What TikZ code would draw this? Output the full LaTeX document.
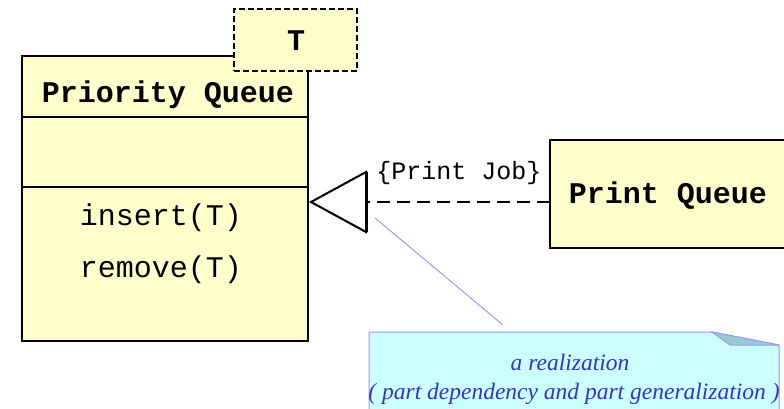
\documentclass[tikz,border=0pt]{standalone}
\usepackage{fontspec}
\setmonofont{Liberation Mono}
\newfontfamily\notefont{Liberation Serif}
\definecolor{boxyellow}{HTML}{FFFFCC}
\definecolor{notefill}{HTML}{CCFFFF}
\definecolor{noteline}{HTML}{9999FF}
\definecolor{foldfill}{HTML}{99CCCC}
\definecolor{notetext}{HTML}{3333CC}
\tikzset{
  umlbox/.style={draw, line width=2pt, fill=boxyellow, inner sep=0pt, outer sep=0pt, anchor=north west},
  monob/.style={font=\ttfamily\bfseries\fontsize{30}{36}\selectfont, anchor=base, inner sep=0pt},
  mono/.style={font=\ttfamily\fontsize{30}{36}\selectfont, anchor=base, inner sep=0pt},
  monos/.style={font=\ttfamily\fontsize{25}{30}\selectfont, anchor=base, inner sep=0pt},
  notetxt/.style={font=\notefont\itshape\fontsize{23.5}{28}\selectfont, text=notetext, anchor=base, inner sep=0pt},
}
\begin{document}
\begin{tikzpicture}[x=1pt,y=-1pt]
\useasboundingbox (0,0) rectangle (784,409);
\clip (0,0) rectangle (784,409);
% Priority Queue class
\node[umlbox, minimum width=286pt, minimum height=61pt] (pqhead) at (22,56) {};
\node[umlbox, minimum width=286pt, minimum height=70pt] (pqattr) at (22,117) {};
\node[umlbox, minimum width=286pt, minimum height=154pt] (pqops) at (22,187) {};
\node[monob] (pqtitle) at (168,103) {Priority Queue};
\node[mono] (ins) at (161,225) {insert(T)};
\node[mono] (rem) at (161,277) {remove(T)};
% template parameter
\node[umlbox, dash pattern=on 6pt off 3pt, line width=1.8pt, minimum width=123pt, minimum height=62pt] (tpar) at (234,9) {};
\node[monob] (tlabel) at (296,51) {T};
% Print Queue class
\node[umlbox, minimum width=260pt, minimum height=108pt] (pqueue) at (550,140) {};
\node[monob] (pqname) at (668,203) {Print Queue};
% realization arrow
\coordinate (tip) at (311,202);
\coordinate (btop) at (366,172);
\coordinate (bbot) at (366,232);
\coordinate (bmid) at (366,202);
\draw[line width=2pt, dash pattern=on 13pt off 7pt] (pqueue.west |- bmid) -- (bmid);
\draw[line width=2pt, line join=miter, fill=white] (tip) -- (btop) -- (bbot) -- cycle;
\draw[line width=3pt] (btop) -- (bbot);
\node[monos] (bind) at (459,179) {\{Print Job\}};
% note
\coordinate (anchorpt) at (375,218);
\coordinate (nA) at (369,332);
\coordinate (nB) at (712,332);
\coordinate (nC) at (779,345);
\coordinate (nD) at (779,415);
\coordinate (nE) at (369,415);
\coordinate (fold) at (730,345);
\draw[noteline, line width=1pt, fill=notefill] (nA) -- (nB) -- (nC) -- (nD) -- (nE) -- cycle;
\draw[noteline, line width=1pt, fill=foldfill] (nB) -- (fold) -- (nC) -- cycle;
\coordinate (notetop) at (503,325);
\draw[noteline, line width=1pt] (anchorpt) -- (notetop);
\node[notetxt] (n1) at (570,370) {a realization};
\node[notetxt] (n2) at (574,399) {( part dependency and part generalization )};
\end{tikzpicture}
\end{document}
